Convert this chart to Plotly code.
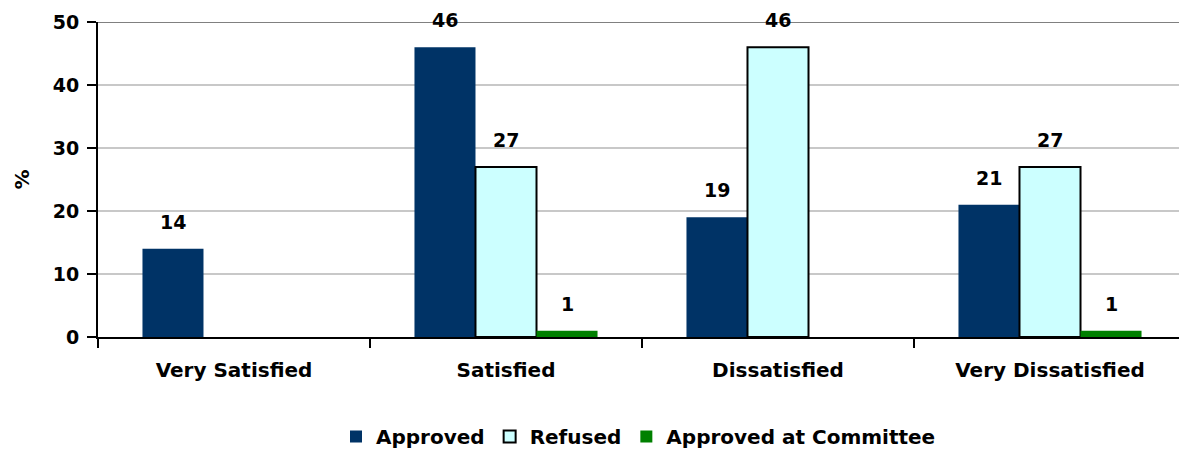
import plotly.graph_objects as go

# Survey results: satisfaction by application outcome (%)
categories = ["Very Satisfied", "Satisfied", "Dissatisfied", "Very Dissatisfied"]
approved = [14, 46, 19, 21]
refused = [None, 27, 46, 27]
approved_committee = [None, 1, None, 1]
y_ticks = [0, 10, 20, 30, 40, 50]

series = [
    ("Approved", approved, "#003366", dict(width=0)),
    ("Refused", refused, "#CCFFFF", dict(color="#000000", width=2)),
    ("Approved at Committee", approved_committee, "#008000", dict(width=0)),
]

BARGAP = 0.327
FONT = "DejaVu Sans"

fig = go.Figure()
for name, values, color, line in series:
    fig.add_trace(go.Bar(
        name=name,
        x=categories,
        y=values,
        marker=dict(color=color, line=line),
        hoverinfo="skip",
    ))

# Value labels above each bar
slot = (1 - BARGAP) / len(series)
for k, (name, values, color, line) in enumerate(series):
    for idx, v in enumerate(values):
        if v is None:
            continue
        fig.add_annotation(
            x=idx + (k - (len(series) - 1) / 2) * slot,
            y=v,
            xref="x", yref="y",
            text=str(v),
            showarrow=False,
            yshift=27,
            yanchor="middle",
            font=dict(family=FONT, size=19, color="#000000", weight="bold"),
        )

# Darker top border line of the plot area
fig.add_shape(type="line", xref="paper", yref="y", x0=0, x1=1, y0=50, y1=50,
              line=dict(color="#808080", width=2), layer="below")

fig.update_layout(
    width=1179, height=450,
    margin=dict(l=98, r=0, t=22, b=113),
    paper_bgcolor="#FFFFFF",
    plot_bgcolor="#FFFFFF",
    barmode="group",
    bargap=BARGAP,
    bargroupgap=0,
    font=dict(family=FONT, size=19, color="#000000", weight="bold"),
    showlegend=True,
    legend=dict(
        orientation="h",
        xref="paper", yref="container",
        x=0.5, xanchor="center",
        y=0.03, yanchor="middle",
        font=dict(family=FONT, size=20, color="#000000", weight="bold"),
        itemwidth=30,
        traceorder="normal",
    ),
    xaxis=dict(
        type="category",
        range=[-0.5, -0.5 + 1081 / 272],
        showgrid=False,
        showline=True, linecolor="#000000", linewidth=2,
        ticks="outside", tickson="boundaries", ticklen=9, tickwidth=2, tickcolor="#000000",
        tickfont=dict(family=FONT, size=20, color="#000000", weight="bold"),
        ticklabelstandoff=14,
        fixedrange=True,
    ),
    yaxis=dict(
        range=[0, 50],
        tickvals=y_ticks,
        showgrid=True, gridcolor="#C8C8C8", gridwidth=2,
        zeroline=False,
        showline=True, linecolor="#000000", linewidth=2,
        ticks="outside", ticklen=9, tickwidth=2, tickcolor="#000000",
        tickfont=dict(family=FONT, size=19, color="#000000", weight="bold"),
        ticklabelstandoff=4,
        title=dict(text="%", standoff=18,
                   font=dict(family=FONT, size=20, color="#000000", weight="bold")),
        fixedrange=True,
    ),
)

fig.write_html("out.html")
